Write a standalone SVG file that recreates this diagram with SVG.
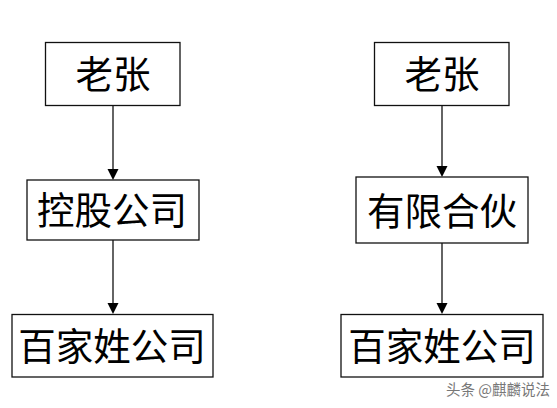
<svg xmlns="http://www.w3.org/2000/svg" width="557" height="408" viewBox="0 0 557 408">
<style>
.box{fill:#fff;stroke:#111;stroke-width:1.3}
.lbl{font-family:"Noto Sans CJK SC","Liberation Sans",sans-serif;font-size:37.5px;fill:#000;text-anchor:middle;dominant-baseline:central}
.con{stroke:#111;stroke-width:1.3;fill:none}
.wm{font-family:"Noto Sans CJK SC","Liberation Sans",sans-serif;font-size:14.5px;fill:#777;text-anchor:end}
</style>
<rect width="557" height="408" fill="#fff"/>
<g id="connectors">
<line class="con" x1="113" y1="105" x2="113" y2="169" />
<path d="M107.5,169 L118.5,169 L113,180 Z" fill="#000"/>
<line class="con" x1="113" y1="240" x2="113" y2="303" />
<path d="M107.5,303 L118.5,303 L113,314 Z" fill="#000"/>
<line class="con" x1="442" y1="105" x2="442" y2="166" />
<path d="M436.5,166 L447.5,166 L442,177 Z" fill="#000"/>
<line class="con" x1="442" y1="243" x2="442" y2="303" />
<path d="M436.5,303 L447.5,303 L442,314 Z" fill="#000"/>
</g>
<g id="lao-zhang-left">
<rect class="box" x="45.5" y="42.5" width="134.5" height="63"/>
<text class="lbl" x="113" y="71">老张</text>
</g>
<g id="holding-company">
<rect class="box" x="27" y="180" width="172" height="60"/>
<text class="lbl" x="112" y="207">控股公司</text>
</g>
<g id="baijiaxing-left">
<rect class="box" x="12" y="314.5" width="201" height="62.5"/>
<text class="lbl" x="112" y="343">百家姓公司</text>
</g>
<g id="lao-zhang-right">
<rect class="box" x="374.5" y="42.5" width="134.5" height="63"/>
<text class="lbl" x="442" y="71">老张</text>
</g>
<g id="limited-partnership">
<rect class="box" x="356" y="177" width="172" height="66"/>
<text class="lbl" x="442" y="208">有限合伙</text>
</g>
<g id="baijiaxing-right">
<rect class="box" x="341" y="314.5" width="202" height="62.5"/>
<text class="lbl" x="442" y="343">百家姓公司</text>
</g>
<text class="wm" x="550" y="395">头条 @麒麟说法</text>
</svg>
